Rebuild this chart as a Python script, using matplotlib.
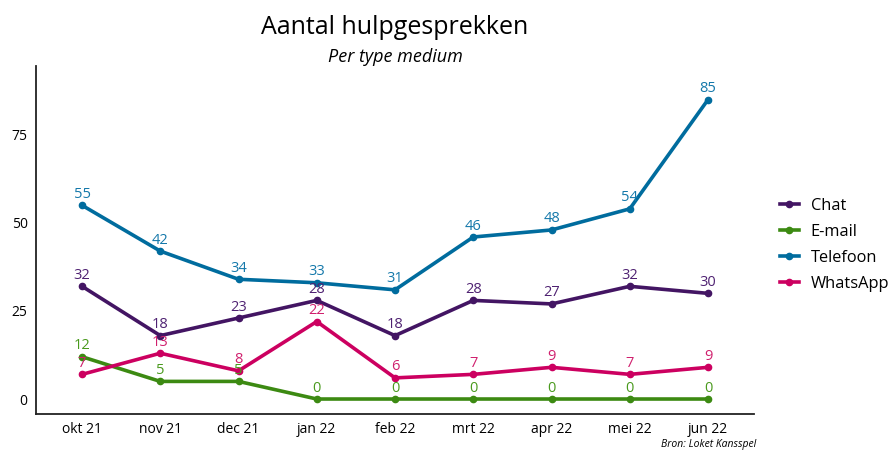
import matplotlib
matplotlib.use("Agg")
import matplotlib.pyplot as plt
from matplotlib.lines import Line2D

plt.rcParams['font.family'] = ['Open Sans', 'DejaVu Sans']

months = ["okt 21", "nov 21", "dec 21", "jan 22", "feb 22", "mrt 22", "apr 22", "mei 22", "jun 22"]
chat = [32, 18, 23, 28, 18, 28, 27, 32, 30]
email = [12, 5, 5, 0, 0, 0, 0, 0, 0]
telefoon = [55, 42, 34, 33, 31, 46, 48, 54, 85]
whatsapp = [7, 13, 8, 22, 6, 7, 9, 7, 9]

series = [
    ("Chat", chat, "#431563", "#4f2272"),
    ("E-mail", email, "#3c8a12", "#4a9a1e"),
    ("Telefoon", telefoon, "#006c9e", "#1478aa"),
    ("WhatsApp", whatsapp, "#cc0060", "#d0206e"),
]

fig = plt.figure(figsize=(8.92, 4.51), dpi=100)
ax = fig.add_axes([0.0404, 0.082, 0.8049, 0.772])
x = list(range(len(months)))

for name, vals, col, lcol in series:
    ax.plot(x, vals, color=col, lw=2.6, marker='o', ms=4.5, label=name,
            solid_capstyle='round', zorder=3)
    for xi, v in zip(x, vals):
        ax.annotate(str(v), (xi, v), xytext=(0, 2.5), textcoords='offset points',
                    ha='center', va='bottom', color=lcol, fontsize=10.5, zorder=4)

ax.set_xlim(-0.588, 8.588)
ax.set_ylim(-4.26, 94.6)
ax.set_xticks(x)
ax.set_xticklabels(months)
ax.set_yticks([0, 25, 50, 75])
ax.tick_params(length=0, labelsize=10)
ax.tick_params(axis='x', pad=6)
ax.tick_params(axis='y', pad=6)
for s in ['top', 'right']:
    ax.spines[s].set_visible(False)
for s in ['left', 'bottom']:
    ax.spines[s].set_linewidth(1.3)
    ax.spines[s].set_color('#222222')

handles = [Line2D([0], [0], color=c, lw=2.6, marker='o', ms=4.5) for _, _, c, _ in series]
fig.legend(handles, [s[0] for s in series], loc='center left',
           bbox_to_anchor=(0.874, 0.457), frameon=False, fontsize=11.8,
           handlelength=1.2, handletextpad=0.7, labelspacing=0.62,
           borderaxespad=0, borderpad=0)

fig.text(395/892, 1 - 28/451, "Aantal hulpgesprekken", ha='center', va='center', fontsize=18)
fig.text(395/892, 1 - 57/451, "Per type medium", ha='center', va='center', fontsize=13, style='italic')
fig.text(756/892, 1 - 444/451, "Bron: Loket Kansspel", ha='right', va='center', fontsize=7.5, style='italic')

fig.savefig("out.png", dpi=100)
